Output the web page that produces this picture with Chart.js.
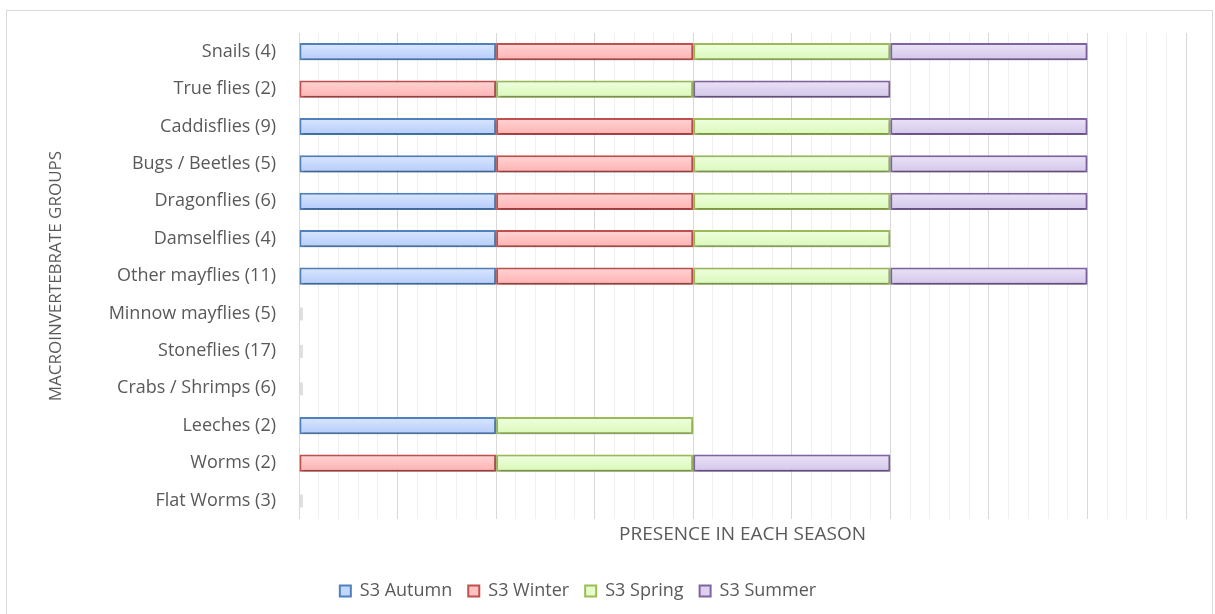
<!DOCTYPE html>
<html>
<head>
<meta charset="utf-8">
<script src="https://cdn.jsdelivr.net/npm/chart.js@4/dist/chart.umd.min.js"></script>
<style>
  html, body { margin: 0; padding: 0; background: #fff; }
  #marco { position: absolute; left: 6px; top: 10px; width: 1207px; height: 610px; border: 1px solid #d9d9d9; border-bottom: none; box-sizing: border-box; }
  #grafico { position: absolute; left: 0; top: 0; }
</style>
</head>
<body>
<div id="marco"></div>
<canvas id="grafico" width="1215" height="614"></canvas>
<script>
// ===== Datos =====
const grupos = [
  "Snails (4)", "True flies (2)", "Caddisflies (9)", "Bugs / Beetles (5)", "Dragonflies (6)",
  "Damselflies (4)", "Other mayflies (11)", "Minnow mayflies (5)", "Stoneflies (17)",
  "Crabs / Shrimps (6)", "Leeches (2)", "Worms (2)", "Flat Worms (3)"
];
const otono     = [1, 0, 1, 1, 1, 1, 1, 0, 0, 0, 1, 0, 0];
const invierno  = [1, 1, 1, 1, 1, 1, 1, 0, 0, 0, 0, 1, 0];
const primavera = [1, 1, 1, 1, 1, 1, 1, 0, 0, 0, 1, 1, 0];
const verano    = [1, 1, 1, 1, 1, 0, 1, 0, 0, 0, 0, 1, 0];
const series = ["S3 Autumn", "S3 Winter", "S3 Spring", "S3 Summer"];

const gris = "#595959";
const fuente = "'Open Sans', 'DejaVu Sans', sans-serif";

// sombra suave debajo de las barras
const sombraBarras = {
  id: "sombraBarras",
  beforeDatasetsDraw(chart) {
    const ctx = chart.ctx;
    ctx.save();
    ctx.shadowColor = "rgba(0,0,0,0.28)";
    ctx.shadowBlur = 3;
    ctx.shadowOffsetX = 1;
    ctx.shadowOffsetY = 2;
  },
  afterDatasetsDraw(chart) { chart.ctx.restore(); }
};

// grupos sin presencia: marca mínima en la base (barra de ancho cero)
const marcaCero = {
  id: "marcaCero",
  afterDatasetsDraw(chart) {
    const { ctx, scales: { x, y } } = chart;
    const x0 = x.getPixelForValue(0);
    ctx.save();
    ctx.fillStyle = "rgba(0,0,0,0.12)";
    grupos.forEach((g, i) => {
      const total = otono[i] + invierno[i] + primavera[i] + verano[i];
      if (total !== 0) return;
      const yc = y.getPixelForValue(i);
      ctx.fillRect(x0 + 1, yc - 6, 3, 13);
    });
    ctx.restore();
  }
};

// leyenda un poco corrida a la izquierda
const leyendaIzq = {
  id: "leyendaIzq",
  afterLayout(chart) { chart.legend.right -= 76; }
};

// degradado vertical dentro de cada barra
function degradado(claro, medio) {
  return c => {
    const y = c.chart.scales?.y;
    if (!y || c.type !== "data") return medio;
    const yc = y.getPixelForValue(c.dataIndex);
    const g = c.chart.ctx.createLinearGradient(0, yc - 9, 0, yc + 9);
    g.addColorStop(0, claro);
    g.addColorStop(1, medio);
    return g;
  };
}

function serie(label, data, claro, medio, borde) {
  return { label, data, backgroundColor: degradado(claro, medio), borderColor: borde, borderWidth: 2, borderSkipped: false,
           barPercentage: 0.92, categoryPercentage: 0.5 };
}

new Chart(document.getElementById("grafico"), {
  type: "bar",
  data: {
    labels: grupos,
    datasets: [
      serie(series[0], otono, "#dbe7ff", "#b3ccfa", "#4f81bd"),
      serie(series[1], invierno, "#ffd6d6", "#ffb0b0", "#c0504d"),
      serie(series[2], primavera, "#f0ffe0", "#d9f8b8", "#9bbb59"),
      serie(series[3], verano, "#ebe4f7", "#d3c5ea", "#8064a2")
    ]
  },
  plugins: [sombraBarras, marcaCero, leyendaIzq],
  options: {
    indexAxis: "y",
    responsive: false,
    animation: false,
    devicePixelRatio: 1,
    layout: { padding: { left: 46, right: 29, top: 33, bottom: 4 } },
    plugins: {
      tooltip: { enabled: false },
      legend: {
        position: "bottom",
        labels: {
          color: gris, font: { family: fuente, size: 18 }, boxWidth: 11, boxHeight: 11, padding: 16,
          generateLabels: chart => series.map((s, i) => {
            const ds = chart.data.datasets[i];
            const relleno = ["#c3d7fd", "#ffc1c1", "#e5fdcb", "#ddd1f0"][i];
            return { text: s, fillStyle: relleno, strokeStyle: ds.borderColor, lineWidth: 2, fontColor: gris, datasetIndex: i, hidden: false };
          })
        }
      }
    },
    scales: {
      x: {
        stacked: true, min: 0, max: 4.5,
        ticks: { display: false, stepSize: 0.1 },
        border: { display: false },
        grid: {
          drawTicks: false,
          color: c => (Math.round(c.tick.value * 10) % 5 === 0 ? "#d9d9d9" : "#f0f0f0")
        },
        title: { display: true, text: "PRESENCE IN EACH SEASON", color: gris, font: { family: fuente, size: 19 }, padding: { top: 4, bottom: 20 } }
      },
      y: {
        stacked: true,
        afterFit: s => { s.width = 253; },
        grid: { display: false },
        border: { display: false },
        ticks: { color: gris, font: { family: fuente, size: 18 }, padding: 15 },
        title: { display: true, text: "MACROINVERTEBRATE GROUPS", color: gris, font: { family: fuente, size: 17 }, padding: 0 }
      }
    }
  }
});
</script>
</body>
</html>
